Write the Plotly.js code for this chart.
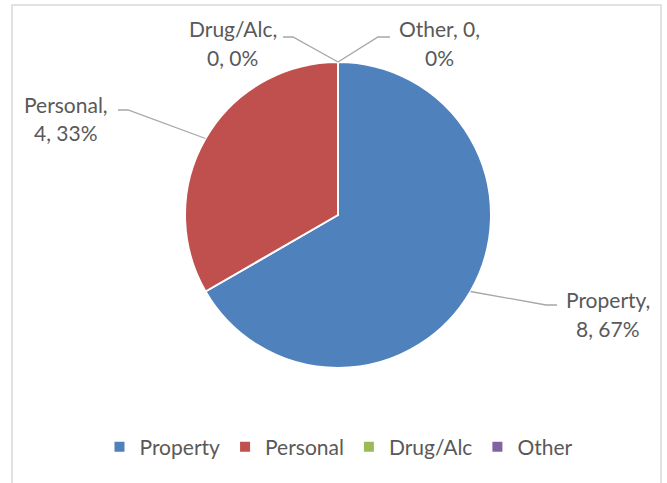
<!DOCTYPE html>
<html><head><meta charset="utf-8">
<script src="https://cdn.plot.ly/plotly-3.0.1.min.js"></script>
<style>html,body{margin:0;padding:0;background:#fff;}#chart{width:667px;height:483px;}</style>
</head><body><div id="chart"></div>
<script>
const labels = ['Property', 'Personal', 'Drug/Alc', 'Other'];
const values = [8, 4, 0, 0];
const colors = ['#4F81BD', '#C0504D', '#9BBB59', '#8064A2'];

const W = 667, H = 483;
const cx = 338, cy = 215, R = 153;
const font = 'Lato, "Open Sans", sans-serif';
const txtColor = '#595959';
const fs = 21;
const px = x => x / W, py = y => 1 - y / H;

// label placement (pixels): text line centers, elbow & end of leader
const labelPos = [
  {l1: [608, 299], l2: [608, 328], elbow: [546, 305], end: [557, 305]},
  {l1: [66, 104], l2: [66, 132], elbow: [128, 110], end: [118, 110]},
  {l1: [233, 28], l2: [233, 57], elbow: [293, 37], end: [283, 37]},
  {l1: [439, 28], l2: [439, 57], elbow: [378, 37], end: [390, 37]}
];

const total = values.reduce((a, b) => a + b, 0);
let cum = 0;
const annotations = [], shapes = [];
values.forEach((v, i) => {
  const mid = (cum + v / 2) / total * 2 * Math.PI; // clockwise from top
  cum += v;
  const ax = cx + R * Math.sin(mid), ay = cy - R * Math.cos(mid);
  const p = labelPos[i];
  const pct = Math.round(v / total * 100);
  shapes.push({type: 'path', xref: 'paper', yref: 'paper',
    path: `M${px(ax)},${py(ay)} L${px(p.elbow[0])},${py(p.elbow[1])} L${px(p.end[0])},${py(p.end[1])}`,
    line: {color: '#a6a6a6', width: 1.3}});
  const line1 = (i === 3) ? labels[i] + ', ' + v + ',' : labels[i] + ',';
  const line2 = (i === 3) ? pct + '%' : v + ', ' + pct + '%';
  annotations.push({xref: 'paper', yref: 'paper', x: px(p.l1[0]), y: py(p.l1[1]), text: line1,
    showarrow: false, xanchor: 'center', yanchor: 'middle', font: {family: font, size: fs, color: txtColor}});
  annotations.push({xref: 'paper', yref: 'paper', x: px(p.l2[0]), y: py(p.l2[1]), text: line2,
    showarrow: false, xanchor: 'center', yanchor: 'middle', font: {family: font, size: fs, color: txtColor}});
});

// chart border
shapes.push({type: 'rect', xref: 'paper', yref: 'paper', x0: px(12), x1: px(661), y0: py(490), y1: py(5),
  line: {color: '#d9d9d9', width: 1.5}, layer: 'below'});

const trace = {
  type: 'pie', labels: labels, values: values, sort: false, direction: 'clockwise', rotation: 0,
  marker: {colors: colors, line: {color: '#ffffff', width: 2}},
  textinfo: 'none', hoverinfo: 'label+value+percent',
  domain: {x: [px(cx - R), px(cx + R)], y: [py(cy + R), py(cy - R)]}
};

const layout = {
  width: W, height: H, margin: {l: 0, r: 0, t: 0, b: 0},
  paper_bgcolor: '#ffffff', plot_bgcolor: '#ffffff',
  showlegend: true,
  legend: {orientation: 'h', x: px(339), xanchor: 'center', y: py(447), yanchor: 'middle',
    font: {family: font, size: fs, color: txtColor}, itemwidth: 30, traceorder: 'normal'},
  annotations: annotations, shapes: shapes
};

Plotly.newPlot('chart', [trace], layout, {displayModeBar: false, staticPlot: true});
</script>
</body></html>
